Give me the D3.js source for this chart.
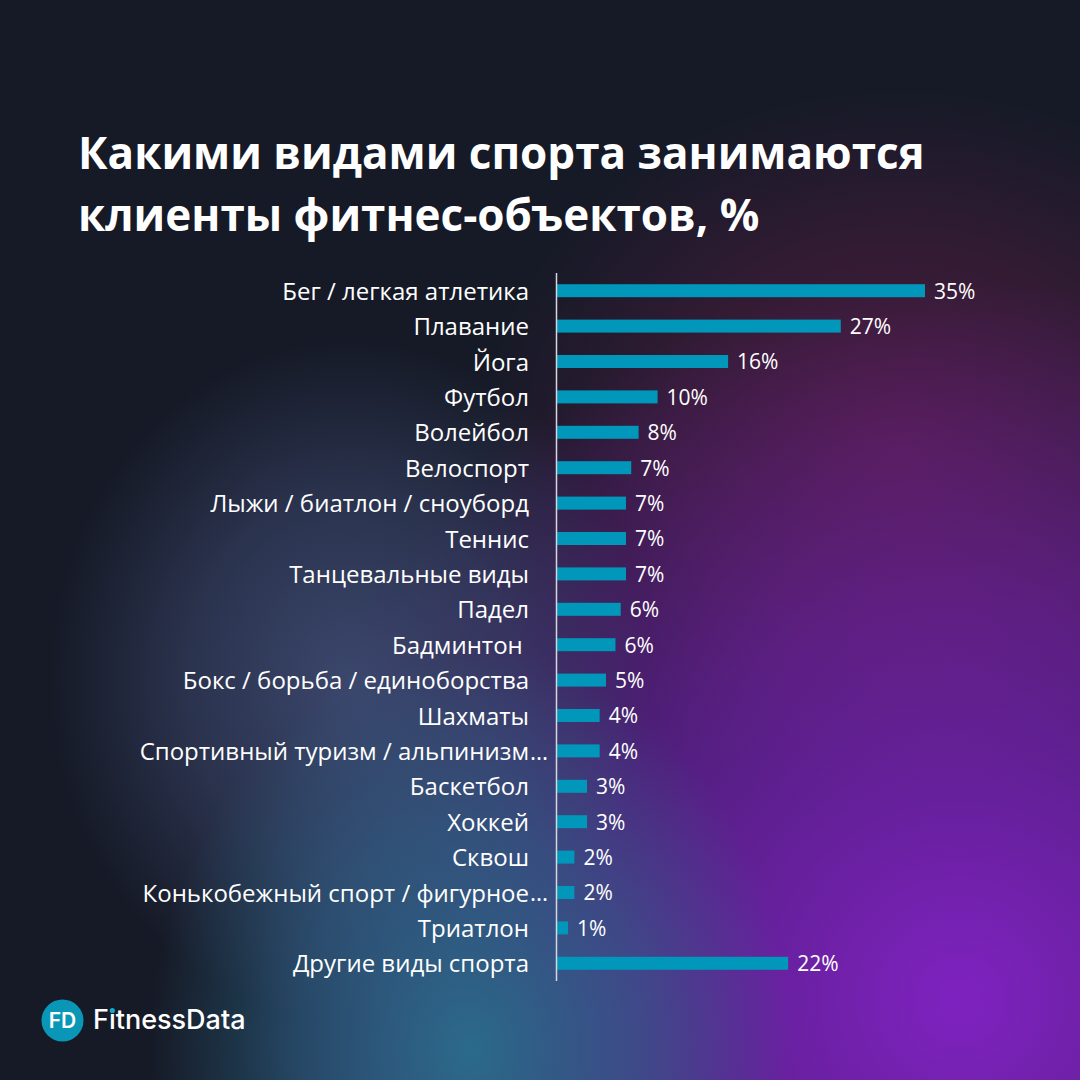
<!DOCTYPE html>
<html lang="ru">
  <head>
    <meta charset="utf-8">
    <title>Какими видами спорта занимаются клиенты фитнес-объектов</title>
    <style>
     html, body { margin: 0; padding: 0; background: #161a27; }
     svg { display: block; }
    </style>
  </head>
  <body>
    <div id="chart"></div>
  </body>
  <script src="https://cdn.jsdelivr.net/npm/d3@7"></script>
  <script>
   // data (bar lengths in %, labels are rounded)
   var sports = ["Бег / легкая атлетика", "Плавание", "Йога", "Футбол", "Волейбол",
                 "Велоспорт", "Лыжи / биатлон / сноуборд", "Теннис", "Танцевальные виды",
                 "Падел", "Бадминтон\u00a0", "Бокс / борьба / единоборства", "Шахматы",
                 "Спортивный туризм / альпинизм", "Баскетбол", "Хоккей", "Сквош",
                 "Конькобежный спорт / фигурное", "Триатлон", "Другие виды спорта"];
   var shares = [35.0, 27.0, 16.3, 9.6, 7.8, 7.1, 6.6, 6.6, 6.6, 6.1,
                 5.6, 4.7, 4.1, 4.1, 2.9, 2.9, 1.7, 1.7, 1.1, 22.0];
   var truncated = [false, false, false, false, false, false, false, false, false, false,
                    false, false, false, true, false, false, false, true, false, false];
   var titleLines = ["Какими видами спорта занимаются", "клиенты фитнес-объектов, %"];

   var W = 1080, H = 1080,
       x0 = 556.5;

   var svg = d3.select("#chart").append("svg")
               .attr("width", W).attr("height", H);

   // background glows
   var defs = svg.append("defs");
   var glow = function(id, cx, cy, rx, ry, color, op) {
     var g = defs.append("radialGradient").attr("id", id)
                 .attr("gradientUnits", "userSpaceOnUse")
                 .attr("cx", cx).attr("cy", cy).attr("r", rx)
                 .attr("gradientTransform", "translate(" + cx + "," + cy + ") scale(1," + (ry / rx) + ") translate(" + (-cx) + "," + (-cy) + ")");
     g.append("stop").attr("offset", 0).attr("stop-color", color).attr("stop-opacity", op);
     g.append("stop").attr("offset", 0.55).attr("stop-color", color).attr("stop-opacity", op * 0.55);
     g.append("stop").attr("offset", 1).attr("stop-color", color).attr("stop-opacity", 0);
     svg.append("rect").attr("width", W).attr("height", H).attr("fill", "url(#" + id + ")");
   };
   svg.append("rect").attr("width", W).attr("height", H).attr("fill", "#161a27");
   glow("g_maroon", 900, 450, 420, 360, "#4e1c40", 0.95);
   glow("g_purple", 960, 1000, 720, 720, "#7f22c0", 1);
   glow("g_gray", 350, 680, 300, 340, "#414e78", 0.85);
   glow("g_teal", 470, 1050, 320, 400, "#2b6a8a", 1);

   // title
   svg.append("g").selectAll("text")
      .data(titleLines).join("text")
      .attr("x", 78)
      .attr("y", function(d, i) { return 169 + i * 62; })
      .attr("font-family", "'Open Sans', sans-serif")
      .attr("font-weight", 700)
      .attr("font-size", 44)
      .attr("fill", "#ffffff")
      .text(function(d) { return d; });

   // scales
   var x = d3.scaleLinear().domain([0, 35]).range([0, 368.5]);
   var y = d3.scalePoint().domain(sports).range([273, 981]).padding(0.5);
   var barH = 13;

   var rows = svg.append("g").selectAll("g")
                 .data(sports).join("g")
                 .attr("transform", function(d) { return "translate(0," + y(d) + ")"; });

   rows.append("rect")
       .attr("x", x0)
       .attr("y", -barH / 2)
       .attr("width", function(d, i) { return x(shares[i]); })
       .attr("height", barH)
       .attr("fill", "#0097ba");

   rows.append("text")
       .attr("x", function(d, i) { return x0 + x(shares[i]) + 9; })
       .attr("dy", "0.38em")
       .attr("font-family", "'Open Sans', sans-serif")
       .attr("font-size", 21)
       .attr("fill", "#ffffff")
       .text(function(d, i) { return Math.round(shares[i]) + "%"; });

   rows.append("text")
       .attr("x", 529)
       .attr("dy", "0.38em")
       .attr("text-anchor", "end")
       .attr("font-family", "'Open Sans', sans-serif")
       .attr("font-size", 24)
       .attr("fill", "#ffffff")
       .style("white-space", "pre")
       .text(function(d) { return d; });

   rows.filter(function(d, i) { return truncated[i]; })
       .append("text")
       .attr("x", 530)
       .attr("dy", "0.38em")
       .attr("font-family", "'Open Sans', sans-serif")
       .attr("font-size", 23)
       .attr("fill", "#ffffff")
       .text("...");

   // axis line
   svg.append("line")
      .attr("x1", x0).attr("x2", x0)
      .attr("y1", 273).attr("y2", 981)
      .attr("stroke", "#d6d6de")
      .attr("stroke-width", 1.5);

   // logo
   var logo = svg.append("g");
   logo.append("circle").attr("cx", 62.5).attr("cy", 1020.5).attr("r", 21)
       .attr("fill", "#0a97b7");
   logo.append("text").attr("x", 62.5).attr("y", 1028)
       .attr("text-anchor", "middle")
       .attr("font-family", "Inter, sans-serif")
       .attr("font-weight", 600)
       .attr("font-size", 21)
       .attr("fill", "#ffffff")
       .text("FD");
   var brand = logo.append("text").attr("x", 93).attr("y", 1029)
                   .attr("font-family", "Inter, sans-serif")
                   .attr("font-weight", 500)
                   .attr("font-size", 27)
                   .attr("fill", "#ffffff")
                   .text("Fıtness" + "Data");
   var ext = brand.node().getExtentOfChar(1);
   logo.append("circle")
       .attr("cx", ext.x + ext.width / 2)
       .attr("cy", 1010.5)
       .attr("r", 2.6)
       .attr("fill", "#13a9c9");
  </script>
</html>
